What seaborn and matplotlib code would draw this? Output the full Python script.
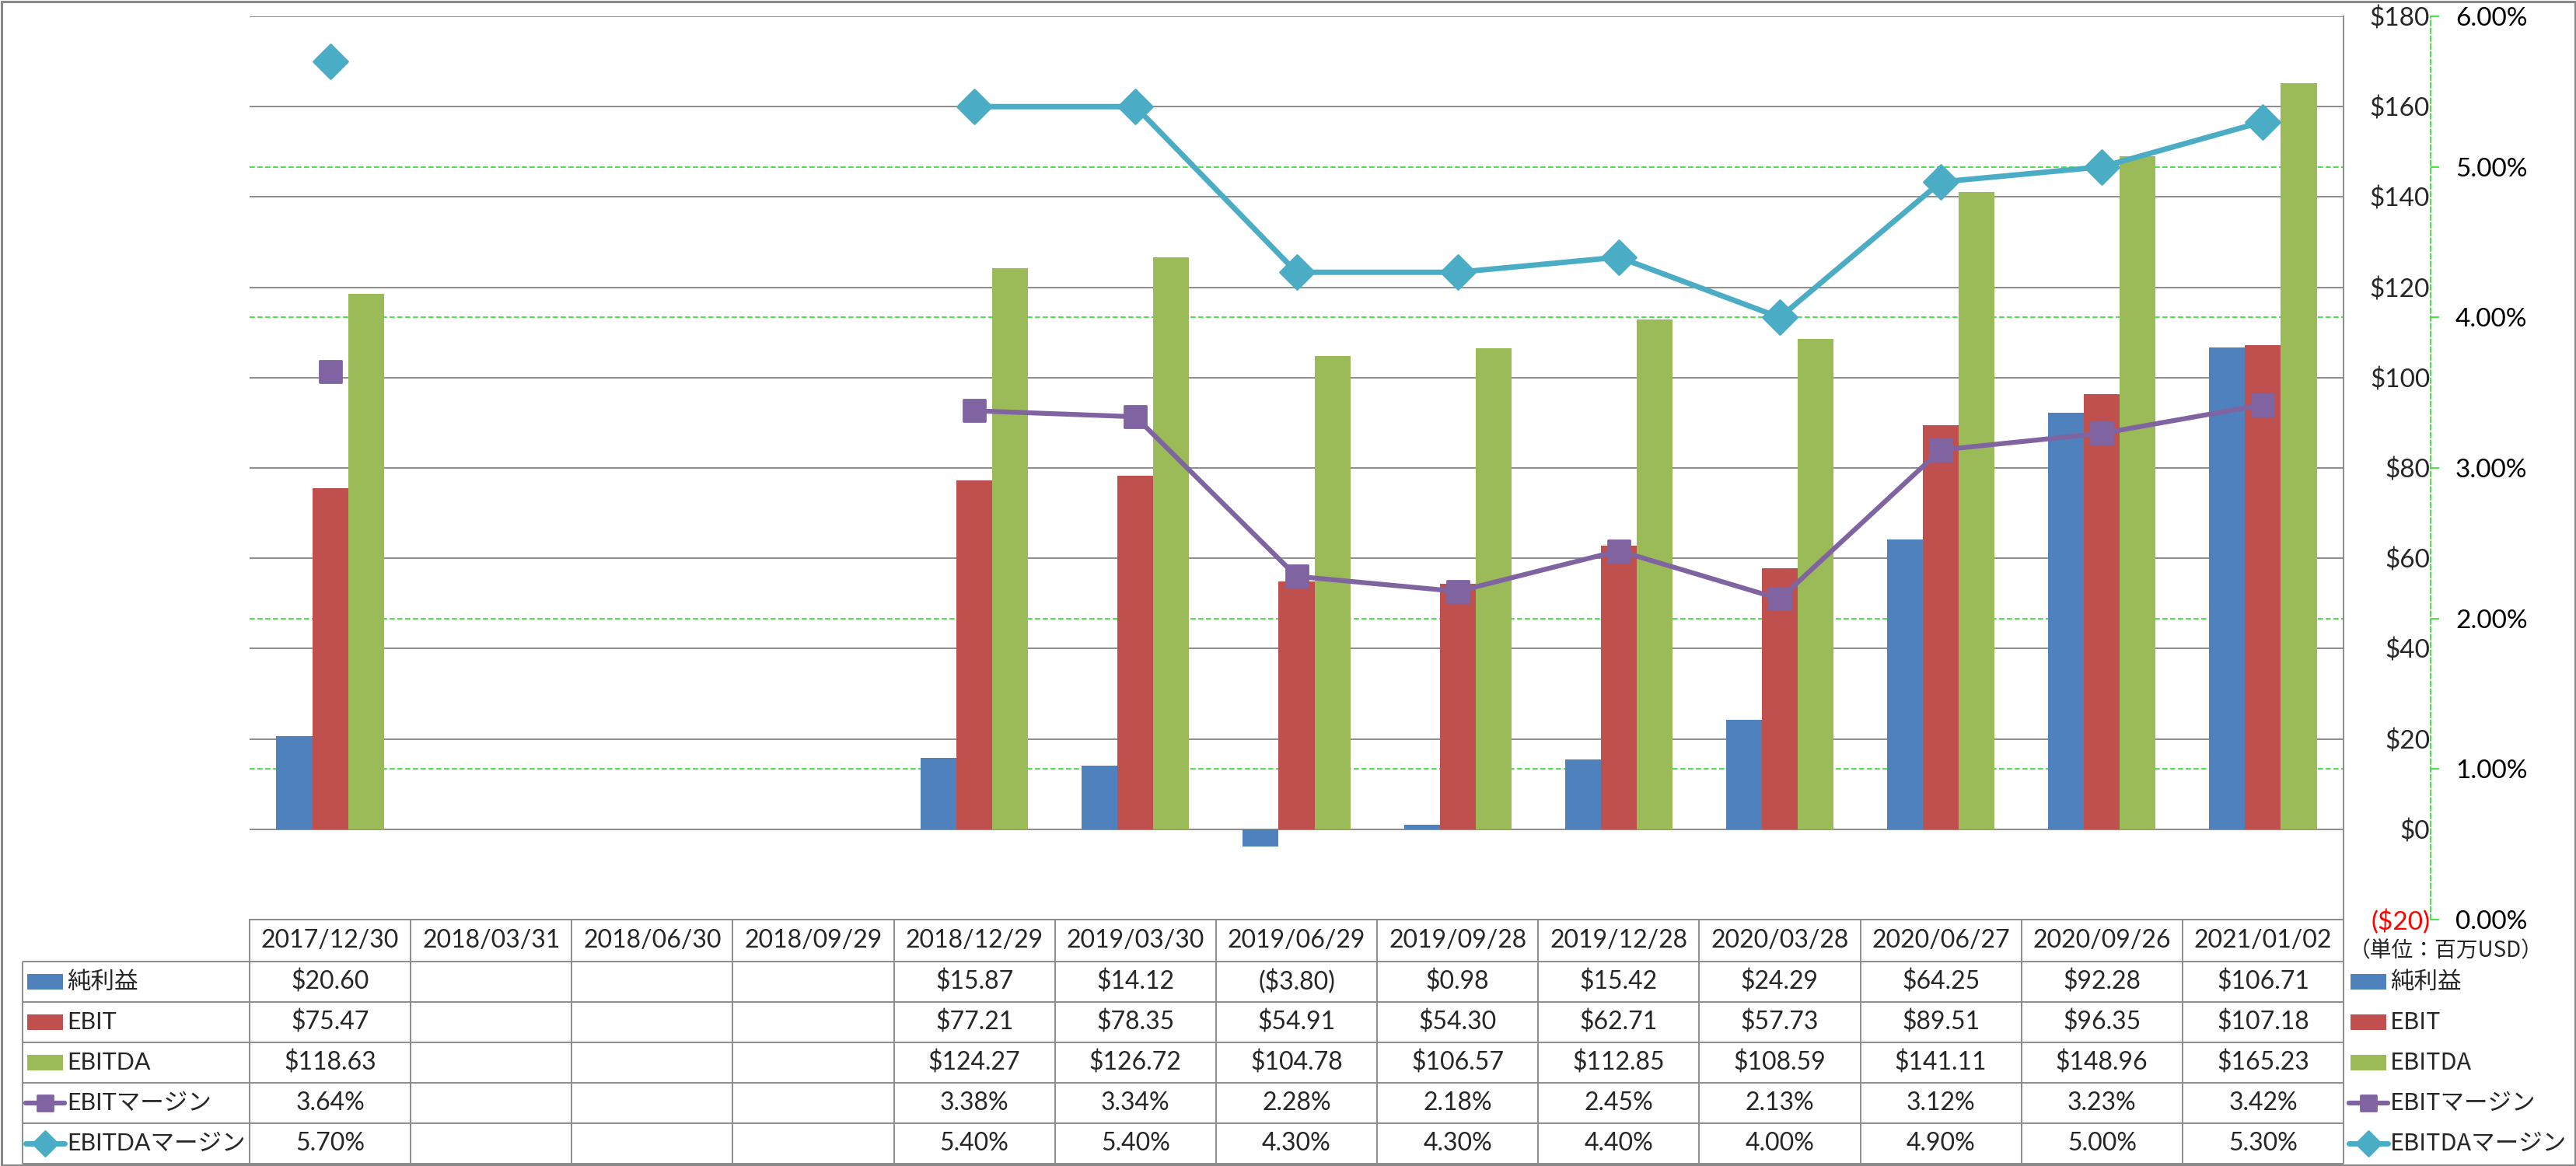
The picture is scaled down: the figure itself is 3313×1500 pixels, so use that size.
import numpy as np
import pandas as pd
import seaborn as sns
import matplotlib.pyplot as plt
from matplotlib.patches import Rectangle
from matplotlib.markers import MarkerStyle
from matplotlib.ticker import FuncFormatter

dates = ['2017/12/30', '2018/03/31', '2018/06/30', '2018/09/29', '2018/12/29',
         '2019/03/30', '2019/06/29', '2019/09/28', '2019/12/28', '2020/03/28',
         '2020/06/27', '2020/09/26', '2021/01/02']
net_income = [20.60, np.nan, np.nan, np.nan, 15.87, 14.12, -3.80, 0.98, 15.42, 24.29, 64.25, 92.28, 106.71]
ebit = [75.47, np.nan, np.nan, np.nan, 77.21, 78.35, 54.91, 54.30, 62.71, 57.73, 89.51, 96.35, 107.18]
ebitda = [118.63, np.nan, np.nan, np.nan, 124.27, 126.72, 104.78, 106.57, 112.85, 108.59, 141.11, 148.96, 165.23]
ebit_margin = [3.64, np.nan, np.nan, np.nan, 3.38, 3.34, 2.28, 2.18, 2.45, 2.13, 3.12, 3.23, 3.42]
ebitda_margin = [5.70, np.nan, np.nan, np.nan, 5.40, 5.40, 4.30, 4.30, 4.40, 4.00, 4.90, 5.00, 5.30]

bar_names = ['純利益', 'EBIT', 'EBITDA']
line_names = ['EBITマージン', 'EBITDAマージン']
usd_ticks = list(range(-20, 181, 20))
pct_ticks = list(range(0, 7))
unit_label = '（単位：百万USD）'

bar_colors = ['#4F81BD', '#C0504D', '#9BBB59']
line_colors = ['#8064A2', '#4BACC6']
grid_gray = '#8c8c8c'
green = '#22e022'

sns.set_theme(style='white')
plt.rcParams['font.family'] = ['Lato', 'Noto Sans CJK JP', 'DejaVu Sans']
jp_font = ['Noto Sans CJK JP', 'DejaVu Sans']

W, H = 3313, 1500
fig = plt.figure(figsize=(W / 100, H / 100), dpi=100)
fig.patch.set_facecolor('white')

# plot area in pixels
x0, x1, y_top, y_bot = 321, 3014, 21, 1183
ax = fig.add_axes([x0 / W, 1 - y_bot / H, (x1 - x0) / W, (y_bot - y_top) / H])

# bars
bars = pd.DataFrame({'date': dates, bar_names[0]: net_income,
                     bar_names[1]: ebit, bar_names[2]: ebitda})
bars = bars.melt(id_vars='date', var_name='series', value_name='value')
sns.barplot(data=bars, x='date', y='value', hue='series', order=dates,
            hue_order=bar_names, palette=bar_colors, saturation=1,
            width=0.667, gap=0, errorbar=None, legend=False, linewidth=0, ax=ax)

# margin lines on the secondary axis
ax2 = ax.twinx()
pos = np.arange(len(dates))
line_styles = [
    (ebit_margin, line_colors[0], MarkerStyle('s', joinstyle='round'), 20, 4.5),
    (ebitda_margin, line_colors[1], MarkerStyle('D', joinstyle='round'), 22, 5.0),
]
for vals, col, mk, ms, lw in line_styles:
    v = np.array(vals, dtype=float)
    seg = np.cumsum(np.isnan(v))
    d = pd.DataFrame({'pos': pos, 'val': v, 'seg': seg}).dropna()
    sns.lineplot(data=d, x='pos', y='val', units='seg', estimator=None, sort=False,
                 color=col, lw=lw, marker=mk, ms=ms, markeredgecolor=col,
                 markeredgewidth=2, legend=False, ax=ax2)

# primary axis: labels on the right, no ticks
ax.set_ylim(usd_ticks[0], usd_ticks[-1])
ax.set_xlim(-0.5, len(dates) - 0.5)
ax.set_yticks(usd_ticks)
ax.yaxis.set_major_formatter(FuncFormatter(
    lambda v, p: f'${v:.0f}' if v >= 0 else f'(${-v:.0f})'))
ax.grid(axis='y', which='major', color=grid_gray, lw=1.4)

# secondary-axis gridlines drawn on the primary axes so they sit under the bars
lo, hi = ax.get_ylim()
green_pos = [lo + (p - pct_ticks[0]) / (pct_ticks[-1] - pct_ticks[0]) * (hi - lo)
             for p in pct_ticks[1:-1]]
ax.set_yticks(green_pos, minor=True)
ax.grid(axis='y', which='minor', color=green, ls=(0, (4, 2)), lw=1.2)
ax.set_axisbelow(True)

ax.yaxis.tick_right()
ax.tick_params(axis='y', which='major', left=False, right=False, labelleft=False,
               labelright=True, pad=74, labelsize=24)
ax.tick_params(axis='y', which='minor', left=False, right=False,
               labelleft=False, labelright=False)
ax.tick_params(axis='x', bottom=False, labelbottom=False)
for t, v in zip(ax.yaxis.get_major_ticks(), usd_ticks):
    t.label2.set_ha('right')
    if v < 0:
        t.label2.set_color('#ff0000')
ax.set_xlabel('')
ax.set_ylabel('')
for s in ['left', 'top']:
    ax.spines[s].set_visible(False)
for s in ['right', 'bottom']:
    ax.spines[s].set_color(grid_gray)
    ax.spines[s].set_linewidth(1.4)

ax2.set_ylim(pct_ticks[0], pct_ticks[-1])
ax2.set_yticks(pct_ticks)
ax2.yaxis.set_major_formatter(FuncFormatter(lambda v, p: f'{v:.2f}%'))
ax2.grid(False)
ax2.set_xlim(-0.5, len(dates) - 0.5)
ax2.set_xlabel('')
ax2.set_ylabel('')
for s in ['left', 'top', 'bottom']:
    ax2.spines[s].set_visible(False)
ax2.spines['right'].set_position(('axes', (3126 - x0) / (x1 - x0)))
ax2.spines['right'].set_color(green)
ax2.spines['right'].set_linestyle((0, (4, 2)))
ax2.spines['right'].set_linewidth(1.2)
ax2.tick_params(axis='y', right=True, left=False, length=8, width=1.2, color=green,
                direction='out', pad=15, labelsize=24, labelcolor='black')
ax2.tick_params(axis='x', bottom=False, labelbottom=False)

# data table and legend on an overlay in pixel units
tab = fig.add_axes([0, 0, 1, 1])
tab.set_xlim(0, W)
tab.set_ylim(H, 0)
tab.axis('off')
tab.patch.set_visible(False)

col_w = (x1 - x0) / len(dates)
row_edges = [1183, 1237, 1289, 1341, 1393, 1445, 1497]
left_x = 29
tl = dict(color=grid_gray, lw=1.4, solid_capstyle='butt')
tab.plot([x0, x1], [row_edges[0]] * 2, **tl)
for y in row_edges[1:]:
    tab.plot([left_x, x1], [y, y], **tl)
tab.plot([left_x, left_x], [row_edges[1], row_edges[-1]], **tl)
for i in range(len(dates) + 1):
    xx = x0 + i * col_w
    tab.plot([xx, xx], [row_edges[0], row_edges[-1]], **tl)

centers = [(a + b) / 2 for a, b in zip(row_edges[:-1], row_edges[1:])]
for i, d in enumerate(dates):
    tab.text(x0 + (i + 0.5) * col_w, centers[0], d, ha='center', va='center', fontsize=23)


def money(v):
    if np.isnan(v):
        return ''
    return f'${v:.2f}' if v >= 0 else f'(${-v:.2f})'


def pct(v):
    return '' if np.isnan(v) else f'{v:.2f}%'


rows = [(bar_names[0], net_income, money), (bar_names[1], ebit, money),
        (bar_names[2], ebitda, money), (line_names[0], ebit_margin, pct),
        (line_names[1], ebitda_margin, pct)]
for r, (name, vals, fmt) in enumerate(rows):
    yc = centers[r + 1]
    for i, v in enumerate(vals):
        tab.text(x0 + (i + 0.5) * col_w, yc, fmt(v), ha='center', va='center', fontsize=23)


def key(xk, yc, r, ms_scale):
    if r < 3:
        tab.add_patch(Rectangle((xk, yc - 10), 46, 20, color=bar_colors[r], lw=0))
    else:
        vals, col, mk, ms, lw = line_styles[r - 3]
        tab.plot([xk - 2, xk + 48], [yc, yc], color=col, lw=lw, solid_capstyle='round')
        tab.plot([xk + 23], [yc], marker=mk, ms=ms * ms_scale, color=col,
                 markeredgecolor=col, markeredgewidth=2)


for r, (name, vals, fmt) in enumerate(rows):
    yc = centers[r + 1]
    key(35, yc, r, 0.72)
    tab.text(86, yc, name, ha='left', va='center', fontsize=22)
    key(3023, yc, r, 0.72)
    tab.text(3074, yc, name, ha='left', va='center', fontsize=22, family=jp_font)

tab.text(3146, 1223, unit_label, ha='center', va='center', fontsize=20, family=jp_font)

# outer frame
tab.add_patch(Rectangle((1.5, 1.5), W - 3, H - 3, fill=False, ec='#888888', lw=2.2))

fig.savefig('out.png', dpi=100)
